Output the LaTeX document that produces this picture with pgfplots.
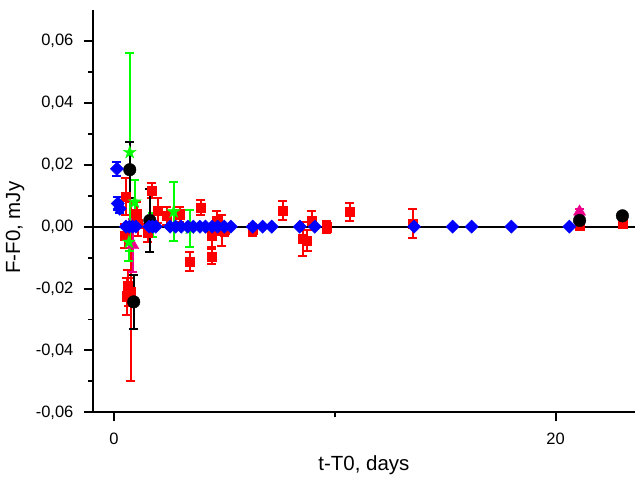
\documentclass[border=0pt]{standalone}
\usepackage{fontspec}
\setmainfont{Liberation Sans}
\usepackage{pgfplots}
\usepackage{pgfplotstable}
\pgfplotsset{compat=1.18}
\pgfdeclareplotmark{fstar}{%
  \pgfpathmoveto{\pgfqpoint{0pt}{1\pgfplotmarksize}}%
  \pgfpathlineto{\pgfqpoint{-0.2245\pgfplotmarksize}{0.309\pgfplotmarksize}}%
  \pgfpathlineto{\pgfqpoint{-0.951\pgfplotmarksize}{0.309\pgfplotmarksize}}%
  \pgfpathlineto{\pgfqpoint{-0.363\pgfplotmarksize}{-0.118\pgfplotmarksize}}%
  \pgfpathlineto{\pgfqpoint{-0.588\pgfplotmarksize}{-0.809\pgfplotmarksize}}%
  \pgfpathlineto{\pgfqpoint{0pt}{-0.382\pgfplotmarksize}}%
  \pgfpathlineto{\pgfqpoint{0.588\pgfplotmarksize}{-0.809\pgfplotmarksize}}%
  \pgfpathlineto{\pgfqpoint{0.363\pgfplotmarksize}{-0.118\pgfplotmarksize}}%
  \pgfpathlineto{\pgfqpoint{0.951\pgfplotmarksize}{0.309\pgfplotmarksize}}%
  \pgfpathlineto{\pgfqpoint{0.2245\pgfplotmarksize}{0.309\pgfplotmarksize}}%
  \pgfpathclose
  \pgfusepathqfillstroke}

\pgfplotstableread{
x y e
0.50 -0.003 0.004
0.54 0.0097 0.006
0.59 -0.0225 0.006
0.63 -0.019 0.005
0.66 -0.021 0.0045
0.77 -0.021 0.029
1.04 0.004 0.004
1.09 0.001 0.004
1.54 -0.002 0.003
1.72 0.0116 0.0025
1.99 0.0052 0.004
2.40 0.0035 0.003
2.99 0.0040 0.0025
3.44 -0.0113 0.003
3.94 0.0062 0.0025
4.43 -0.003 0.0035
4.43 -0.0097 0.0025
4.66 0.002 0.0030
4.89 -0.0013 0.005
5.00 -0.001 0.002
6.29 -0.001 0.002
7.65 0.0052 0.003
8.55 -0.004 0.0055
8.75 -0.0045 0.0035
8.96 0.002 0.003
9.64 -0.0002 0.002
10.68 0.0048 0.003
13.53 0.001 0.0047
21.09 0.0003 0.001
23.03 0.001 0.001
}\reddata

\pgfplotstableread{
x y e
0.72 0.024 0.032
0.95 0.008 0.007
0.68 -0.005 0.006
1.76 0.0005 0.004
2.71 0.0048 0.0095
3.44 -0.0005 0.006
}\greendata

\pgfplotstableread{
x y e
0.86 -0.006 0.0085
21.09 0.0048 0.001
}\magdata

\pgfplotstableread{
x y e
0.72 0.0184 0.009
0.90 -0.0243 0.0087
1.63 0.0020 0.0103
21.09 0.0020 0.001
23.03 0.0035 0.001
}\blackdata

\pgfplotstableread{
x y e
0.14 0.0187 0.0023
0.18 0.0075 0.002
0.27 0.0058 0.0015
}\bluedataerr

\pgfplotstableread{
x y
0.55 0
0.70 0
0.85 0
1.00 0
1.60 0
1.75 0
1.90 0
2.55 0
2.80 0
3.05 0
3.35 0
3.60 0
3.90 0
4.15 0
4.45 0
4.70 0
5.00 0
5.30 0
6.29 0
6.74 0
7.15 0
8.42 0
9.10 0
13.60 0
15.34 0
16.20 0
18.00 0
20.63 0
}\bluedata

\pgfplotsset{
  ebar/.style={
    line width=2pt,
    error bars/.cd, y dir=both, y explicit, error mark=-,
    error bar style={line width=2pt, #1},
    error mark options={rotate=90, mark size=4.5pt, line width=2pt, #1}},
}

\begin{document}
\begin{tikzpicture}
\begin{axis}[
  scale only axis,
  width=543pt, height=403pt,
  xmin=-0.95, xmax=23.6,
  ymin=-0.06, ymax=0.07,
  scaled y ticks=false, scaled x ticks=false,
  axis x line*=bottom, axis y line*=left,
  axis line style={line width=2pt, -},
  tick align=outside,
  major tick length=9pt, minor tick length=5pt,
  tick style={line width=2pt, black},
  xtick={0,20}, xticklabels={0,20},
  minor xtick={10},
  ytick={-0.06,-0.04,-0.02,0,0.02,0.04,0.06},
  yticklabels={{-0,06},{-0,04},{-0,02},{0,00},{0,02},{0,04},{0,06}},
  minor ytick={-0.05,-0.03,-0.01,0.01,0.03,0.05},
  ticklabel style={font=\fontsize{16.5}{19}\selectfont},
  xticklabel style={yshift=-8pt},
  yticklabel style={xshift=-7pt},
  xlabel={t-T0, days},
  ylabel={F-F0, mJy},
  label style={font=\fontsize{20.5}{24}\selectfont},
  xlabel style={at={(axis description cs:0.5,-0.1315)}, anchor=center},
  ylabel style={at={(axis description cs:-0.1436,0.459)}, anchor=center, rotate=0},
  clip=false,
]
\addplot[only marks, red, mark=square*, mark size=4.6pt, mark options={line width=0.4pt}, ebar=red]
  table[x=x, y=y, y error=e] {\reddata};
\addplot[only marks, magenta, mark=triangle*, mark size=7pt, mark options={line width=0.4pt}, ebar=magenta]
  table[x=x, y=y, y error=e] {\magdata};
\addplot[only marks, green, mark=fstar, mark size=6.8pt, mark options={line width=0.4pt}, ebar=green]
  table[x=x, y=y, y error=e] {\greendata};
\addplot[only marks, black, mark=*, mark size=6.3pt, mark options={line width=0.4pt}, ebar=black]
  table[x=x, y=y, y error=e] {\blackdata};
\addplot[only marks, blue, mark=square*, mark size=4.7pt, mark options={rotate=45, line width=0.4pt}, ebar=blue]
  table[x=x, y=y, y error=e] {\bluedataerr};
\addplot[only marks, blue, mark=square*, mark size=4.7pt, mark options={rotate=45, line width=0.4pt}]
  table[x=x, y=y] {\bluedata};
\addplot[black, line width=2pt, no marks] coordinates {(-0.95,0) (23.6,0)};
\end{axis}
\path ([shift={(-93pt,-67pt)}]current axis.south west) rectangle ([shift={(543pt,413pt)}]current axis.south west);
\end{tikzpicture}
\end{document}
